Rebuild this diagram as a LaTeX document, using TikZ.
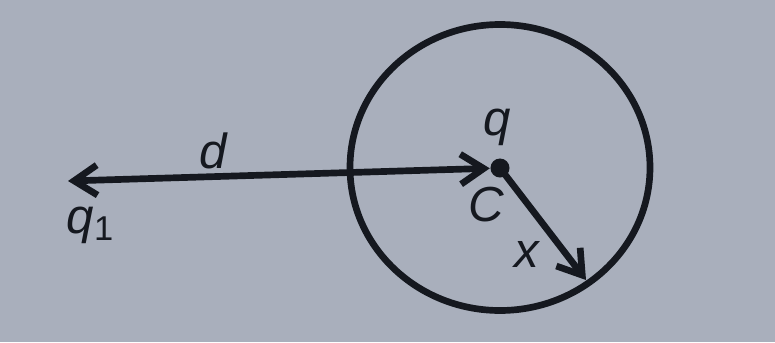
\documentclass[tikz,border=0pt]{standalone}
\usepackage{fontspec}
\setmainfont{Liberation Sans}
\usetikzlibrary{arrows.meta}
\definecolor{paper}{HTML}{A9AFBC}
\definecolor{ink}{HTML}{15181F}
\begin{document}
\begin{tikzpicture}[x=0.01cm,y=-0.01cm,every node/.style={font=\fontsize{14}{16}\selectfont\itshape,text=ink},
arr/.style={ink,line width=1.9pt,arrows={Straight Barb[length=2.3mm,width=3mm]-Straight Barb[length=2.3mm,width=3mm]}},
dot/.style={circle,fill=ink,inner sep=0pt,minimum size=0.19cm}]
\fill[paper] (0,0) rectangle (775,342);
\draw[ink,line width=1.9pt] (500,167.5) ellipse [x radius=150,y radius=143];
\node[dot] (c) at (500,168) {};
\coordinate (q1) at (68,181);
\coordinate (p) at (586,280);
\draw[arr] (q1) -- (c);
\draw[arr,arrows={-Straight Barb[length=2.3mm,width=3mm]}] (c.center) -- (p);
\node (dl) at (213,151) {d};
\node (ql) at (497,127) {q};
\node (cl) at (486,205) {C};
\node (q1l) at (91,225) {q\textsubscript{\upshape 1}};
\node (xl) at (527,254) {x};
\end{tikzpicture}
\end{document}
